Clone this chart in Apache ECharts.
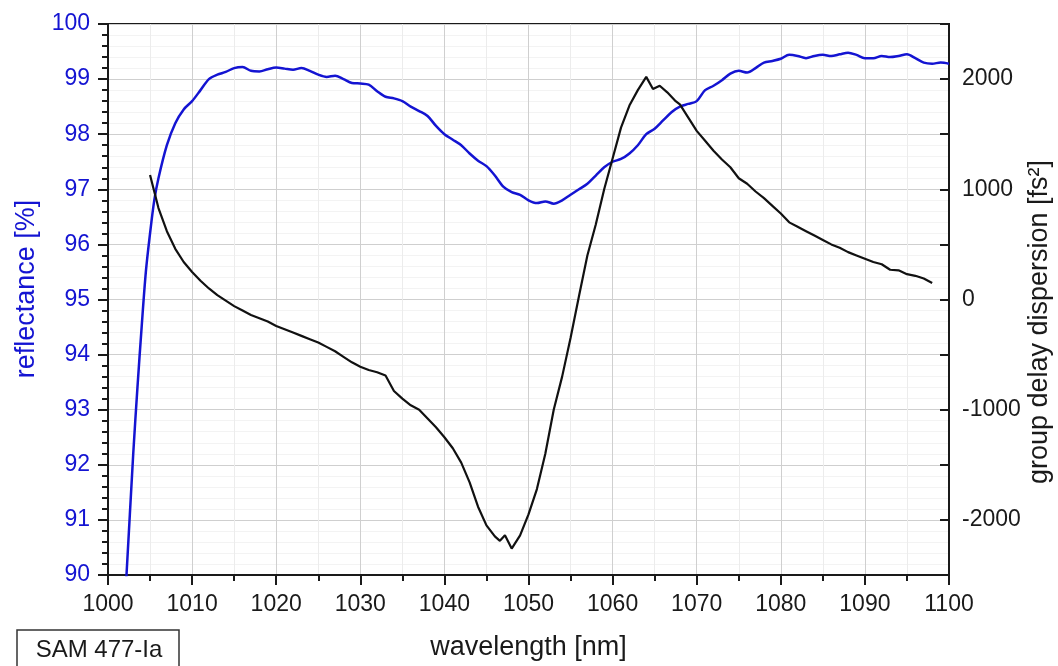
<!DOCTYPE html>
<html>
<head>
<meta charset="utf-8">
<script src="https://cdn.jsdelivr.net/npm/echarts@6/dist/echarts.min.js"></script>
<style>
  html, body { margin: 0; padding: 0; background: #fff; }
  #chart { width: 1058px; height: 666px; }
</style>
</head>
<body>
<div id="chart"></div>
<script>
// reflectance curve (left axis, %)
var reflX = [1001.8, 1002.2, 1003, 1003.5, 1004, 1004.5, 1005, 1005.5, 1006, 1007, 1008, 1009, 1010, 1011, 1012, 1013, 1014, 1015, 1016, 1017, 1018, 1019, 1020, 1021, 1022, 1023, 1024, 1025, 1026, 1027, 1028, 1029, 1030, 1031, 1032, 1033, 1034, 1035, 1036, 1037, 1038, 1039, 1040, 1041, 1042, 1043, 1044, 1045, 1046, 1047, 1048, 1049, 1050, 1051, 1052, 1053, 1054, 1055, 1056, 1057, 1058, 1059, 1060, 1061, 1062, 1063, 1064, 1065, 1066, 1067, 1068, 1069, 1070, 1071, 1072, 1073, 1074, 1075, 1076, 1077, 1078, 1079, 1080, 1081, 1082, 1083, 1084, 1085, 1086, 1087, 1088, 1089, 1090, 1091, 1092, 1093, 1094, 1095, 1096, 1097, 1098, 1099, 1100];
var reflY = [89.0, 90.0, 92.2, 93.4, 94.5, 95.5, 96.2, 96.8, 97.2, 97.8, 98.2, 98.45, 98.6, 98.8, 99.0, 99.08, 99.13, 99.2, 99.22, 99.15, 99.14, 99.18, 99.21, 99.19, 99.17, 99.2, 99.15, 99.08, 99.04, 99.06, 99.0, 98.93, 98.92, 98.9, 98.78, 98.68, 98.65, 98.6, 98.5, 98.42, 98.33, 98.15, 98.0, 97.9, 97.8, 97.65, 97.52, 97.42, 97.25, 97.05, 96.95, 96.9, 96.8, 96.75, 96.78, 96.74, 96.8, 96.9, 97.0, 97.1, 97.25, 97.4, 97.5, 97.55, 97.65, 97.8, 98.0, 98.1, 98.25, 98.4, 98.5, 98.55, 98.6, 98.8, 98.88, 98.98, 99.1, 99.15, 99.12, 99.2, 99.3, 99.33, 99.37, 99.44, 99.42, 99.38, 99.42, 99.44, 99.42, 99.45, 99.48, 99.44, 99.38, 99.38, 99.42, 99.4, 99.42, 99.45, 99.38, 99.3, 99.28, 99.3, 99.28];

// group delay dispersion curve (right axis, fs^2)
var gddX = [1005, 1006, 1007, 1008, 1009, 1010, 1011, 1012, 1013, 1014, 1015, 1016, 1017, 1018, 1019, 1020, 1021, 1022, 1023, 1024, 1025, 1026, 1027, 1028, 1029, 1030, 1031, 1032, 1033, 1034, 1035, 1036, 1037, 1038, 1039, 1040, 1041, 1042, 1043, 1044, 1045, 1046, 1046.6, 1047.2, 1048, 1049, 1050, 1051, 1052, 1053, 1054, 1055, 1056, 1057, 1058, 1059, 1060, 1061, 1062, 1063, 1064, 1064.8, 1065.6, 1066.5, 1067.5, 1068, 1069, 1070, 1071, 1072, 1073, 1074, 1075, 1076, 1077, 1078, 1079, 1080, 1081, 1082, 1083, 1084, 1085, 1086, 1087, 1088, 1089, 1090, 1091, 1092, 1093, 1094, 1095, 1096, 1097, 1098];
var gddY = [1130, 830, 620, 460, 340, 250, 170, 100, 40, -10, -60, -100, -140, -170, -200, -240, -270, -300, -330, -360, -390, -430, -470, -520, -570, -610, -640, -660, -690, -830, -900, -960, -1000, -1080, -1160, -1250, -1350, -1480, -1660, -1880, -2050, -2150, -2190, -2140, -2260, -2140, -1950, -1720, -1400, -1000, -700, -350, 30, 400, 680, 1000, 1280, 1560, 1760, 1900, 2020, 1910, 1940, 1880, 1800, 1770, 1650, 1530, 1440, 1350, 1270, 1200, 1100, 1050, 980, 920, 850, 780, 700, 660, 620, 580, 540, 500, 470, 430, 400, 370, 340, 320, 270, 265, 230, 215, 190, 150];

var xTicks = { min: 1000, max: 1100, step: 10 };

var e = echarts.init(document.getElementById('chart'));
var font = 'Liberation Sans, Arial, sans-serif';
var blue = '#1414d2';
var ink = '#1a1a1a';

var option = {
    backgroundColor: '#fff',
    animation: false,
    grid: {
        left: 108, right: 109, top: 24, bottom: 88,
        show: true, borderColor: ink, borderWidth: 2
    },
    xAxis: {
        type: 'value',
        min: xTicks.min, max: xTicks.max, interval: xTicks.step,
        name: 'wavelength [nm]',
        nameLocation: 'middle',
        nameGap: 59,
        nameTextStyle: { fontFamily: font, fontSize: 27, color: ink },
        axisLine: { onZero: false, lineStyle: { color: ink, width: 2 } },
        axisTick: { inside: false, length: 10, lineStyle: { color: ink, width: 2 } },
        minorTick: { show: true, splitNumber: 2, length: 6, lineStyle: { color: ink, width: 2 } },
        axisLabel: {
            fontFamily: font, fontSize: 23, color: ink, margin: 18,
            formatter: function (v) { return String(v); }
        },
        splitLine: { show: true, lineStyle: { color: '#cfcfcf', width: 1 } },
        minorSplitLine: { show: true, lineStyle: { color: '#ececec', width: 1 } }
    },
    yAxis: [
        {
            type: 'value',
            min: 90, max: 100, interval: 1,
            position: 'left',
            axisLine: { show: true, onZero: false, lineStyle: { color: ink, width: 2 } },
            axisTick: { show: true, inside: false, length: 10, lineStyle: { color: ink, width: 2 } },
            minorTick: { show: true, splitNumber: 5, length: 6, lineStyle: { color: ink, width: 2 } },
            axisLabel: { fontFamily: font, fontSize: 23, color: blue, margin: 18 },
            splitLine: { show: true, lineStyle: { color: '#cfcfcf', width: 1 } },
            minorSplitLine: { show: true, lineStyle: { color: '#f3f3f3', width: 1 } }
        },
        {
            type: 'value',
            min: -2500, max: 2500, interval: 500,
            position: 'right',
            axisLine: { show: true, onZero: false, lineStyle: { color: ink, width: 2 } },
            axisTick: { show: true, inside: true, length: 9, lineStyle: { color: ink, width: 2 } },
            axisLabel: {
                fontFamily: font, fontSize: 23, color: ink, margin: 13,
                formatter: function (v) {
                    return (v % 1000 === 0) ? String(v) : '';
                }
            },
            splitLine: { show: false }
        }
    ],
    graphic: [
        {
            type: 'text',
            x: 27, y: 289,
            rotation: Math.PI / 2,
            style: {
                text: 'reflectance [%]',
                font: '27px ' + font,
                fill: blue,
                textAlign: 'center',
                textVerticalAlign: 'middle'
            }
        },
        {
            type: 'text',
            x: 1040, y: 322,
            rotation: Math.PI / 2,
            style: {
                text: 'group delay dispersion [fs²]',
                font: '27px ' + font,
                fill: ink,
                textAlign: 'center',
                textVerticalAlign: 'middle'
            }
        },
        {
            type: 'rect',
            shape: { x: 17, y: 630, width: 162, height: 44 },
            style: { fill: '#fff', stroke: '#333', lineWidth: 1.5 }
        },
        {
            type: 'text',
            x: 99, y: 650,
            style: {
                text: 'SAM 477-Ia',
                font: '24px ' + font,
                fill: ink,
                textAlign: 'center',
                textVerticalAlign: 'middle'
            }
        }
    ],
    series: [
        {
            name: 'reflectance',
            type: 'line',
            yAxisIndex: 0,
            showSymbol: false,
            smooth: 0.3,
            clip: true,
            lineStyle: { color: blue, width: 2.5 },
            data: reflX.map(function (x, i) { return [x, reflY[i]]; })
        },
        {
            name: 'GDD',
            type: 'line',
            yAxisIndex: 1,
            showSymbol: false,
            clip: true,
            lineStyle: { color: '#111', width: 2.2 },
            data: gddX.map(function (x, i) { return [x, gddY[i]]; })
        }
    ]
};

e.setOption(option);
window.addEventListener('resize', function () { e.resize(); });
</script>
</body>
</html>
